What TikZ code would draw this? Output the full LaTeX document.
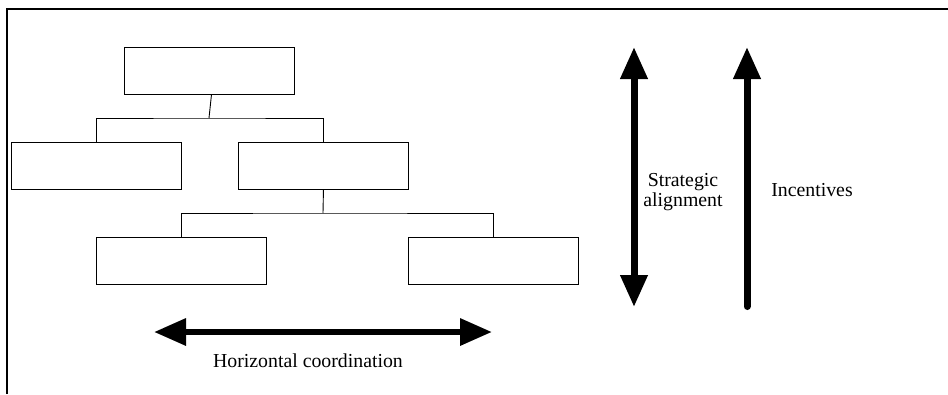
\documentclass[tikz,border=0pt]{standalone}
\usepackage{fontspec}
\setmainfont{Liberation Serif}
\usetikzlibrary{arrows.meta}
\begin{document}
\begin{tikzpicture}[x=1pt,y=-1pt,
  orgbox/.style={draw,line width=0.9pt,minimum width=170pt,minimum height=47pt,inner sep=0pt,anchor=north west},
  tree/.style={line width=0.9pt},
  bigarrow/.style={line width=7pt,{Triangle[length=32pt,width=26pt]}-{Triangle[length=32pt,width=26pt]}},
  lbl/.style={font=\fontsize{19.8}{20}\selectfont,inner sep=0pt}]
\useasboundingbox (0,0) rectangle (948,394);
% frame (top and left only)
\coordinate (fbl) at (7,394);
\coordinate (ftl) at (7,9);
\coordinate (ftr) at (948,9);
\draw[line width=2.2pt] (fbl) -- (ftl) -- (ftr);
% boxes
\node[orgbox] (top) at (124,47) {};
\node[orgbox] (l1) at (11,142) {};
\node[orgbox] (m1) at (238,142) {};
\node[orgbox] (l2) at (96,237) {};
\node[orgbox] (r2) at (408,237) {};
% tree connectors
\coordinate (j1) at (209,118);
\draw[tree] ([xshift=2pt]top.south) -- (j1);
\draw[tree] (l1.north) |- (j1) -| (m1.north);
\coordinate (j2) at (323,213);
\draw[tree] (m1.south) -- (j2);
\draw[tree] (l2.north) |- (j2) -| (r2.north);
% horizontal arrow
\coordinate (hl) at (154,332);
\coordinate (hr) at (492,332);
\draw[bigarrow,line width=6.3pt] (hl) -- (hr);
\node[lbl,anchor=base] (htext) at (308,367.5) {Horizontal coordination};
% strategic alignment arrow
\coordinate (st) at (634,47);
\coordinate (sb) at (634,307);
\draw[bigarrow] (sb) -- (st);
\node[lbl,anchor=base,align=center] (stext) at (683,206.7) {Strategic\\alignment};
% incentives arrow
\coordinate (it) at (747,47);
\coordinate (ib) at (747,306.5);
\draw[line width=7pt,line cap=round,-{Triangle[length=32pt,width=26pt]}] (ib) -- (it);
\node[lbl,anchor=base] (itext) at (812,196) {Incentives};
\end{tikzpicture}
\end{document}
